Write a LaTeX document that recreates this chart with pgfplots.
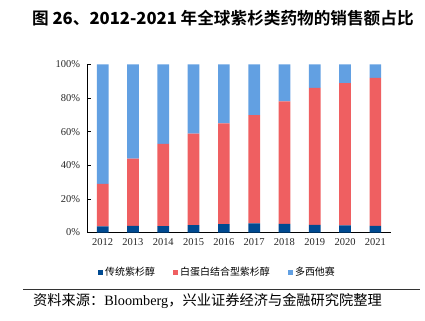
\documentclass[border=0pt]{standalone}
\usepackage{fontspec}
\usepackage{pgfplots}
\pgfplotsset{compat=1.18}
\setmainfont{Liberation Serif}
\newfontfamily\cjk{Noto Sans CJK SC}
\newfontfamily\cjkb{Noto Sans CJK SC Bold}
\definecolor{cNavy}{HTML}{004A91}
\definecolor{cRed}{HTML}{EF5F61}
\definecolor{cBlue}{HTML}{62A0E2}
\begin{document}
\begin{tikzpicture}
\useasboundingbox (0bp,0bp) rectangle (425bp,321bp);
\begin{axis}[
  at={(87.5bp,88.5bp)}, anchor=south west,
  scale only axis, width=303bp, height=168bp,
  ybar stacked, bar width=11.7bp,
  xmin=-0.5, xmax=9.5, ymin=0, ymax=100,
  xtick={0,...,9},
  xticklabels={2012,2013,2014,2015,2016,2017,2018,2019,2020,2021},
  ytick={0,20,40,60,80,100},
  yticklabel={\pgfmathprintnumber{\tick}\%},
  /pgf/number format/assume math mode=true,
  axis lines*=left,
  axis line style={black, line width=0.8pt},
  x axis line style={-}, y axis line style={-},
  xtick style={draw=none},
  ytick style={black, line width=0.6pt},
  tick align=inside, major tick length=3bp,
  tick label style={font=\fontsize{10.5}{11}\selectfont, text=black!85},
  xticklabel style={yshift=-3bp},
  yticklabel style={xshift=-4bp},
  legend style={at={(0.034,-0.236)}, anchor=west, draw=none, fill=none,
     legend columns=3, font=\cjk\fontsize{10}{11}\selectfont,
     /tikz/every even column/.append style={column sep=16bp},
     inner sep=0pt},
  legend cell align=left,
  legend image code/.code={\fill[#1] (0bp,-2.6bp) rectangle (5.2bp,2.6bp);},
]
\addplot[fill=cNavy, draw=none] coordinates {(0,3.6) (1,4.0) (2,3.8) (3,4.4) (4,5.0) (5,5.4) (6,5.2) (7,4.6) (8,4.2) (9,4.0)};
\addplot[fill=cRed, draw=none] coordinates {(0,25.4) (1,39.9) (2,48.9) (3,54.4) (4,60.0) (5,64.4) (6,72.9) (7,81.5) (8,84.7) (9,88.0)};
\addplot[fill=cBlue, draw=none] coordinates {(0,71.0) (1,56.1) (2,47.3) (3,41.2) (4,35.0) (5,30.2) (6,21.9) (7,13.9) (8,11.1) (9,8.0)};
\legend{传统紫杉醇,白蛋白结合型紫杉醇,多西他赛}
\end{axis}
\node[anchor=west, inner sep=0pt] at (32bp,303bp) {\fontsize{16.7}{18}\selectfont\cjkb 图 \textbf{26}、\textbf{2012-2021} 年全球紫杉类药物的销售额占比};
\draw[black!80, line width=0.7pt] (23bp,32bp) -- (420bp,32bp);
\node[anchor=west, inner sep=0pt] at (33bp,20bp) {\fontsize{14.3}{15}\selectfont\cjk 资料来源：{\rmfamily Bloomberg}，兴业证券经济与金融研究院整理};
\end{tikzpicture}
\end{document}
